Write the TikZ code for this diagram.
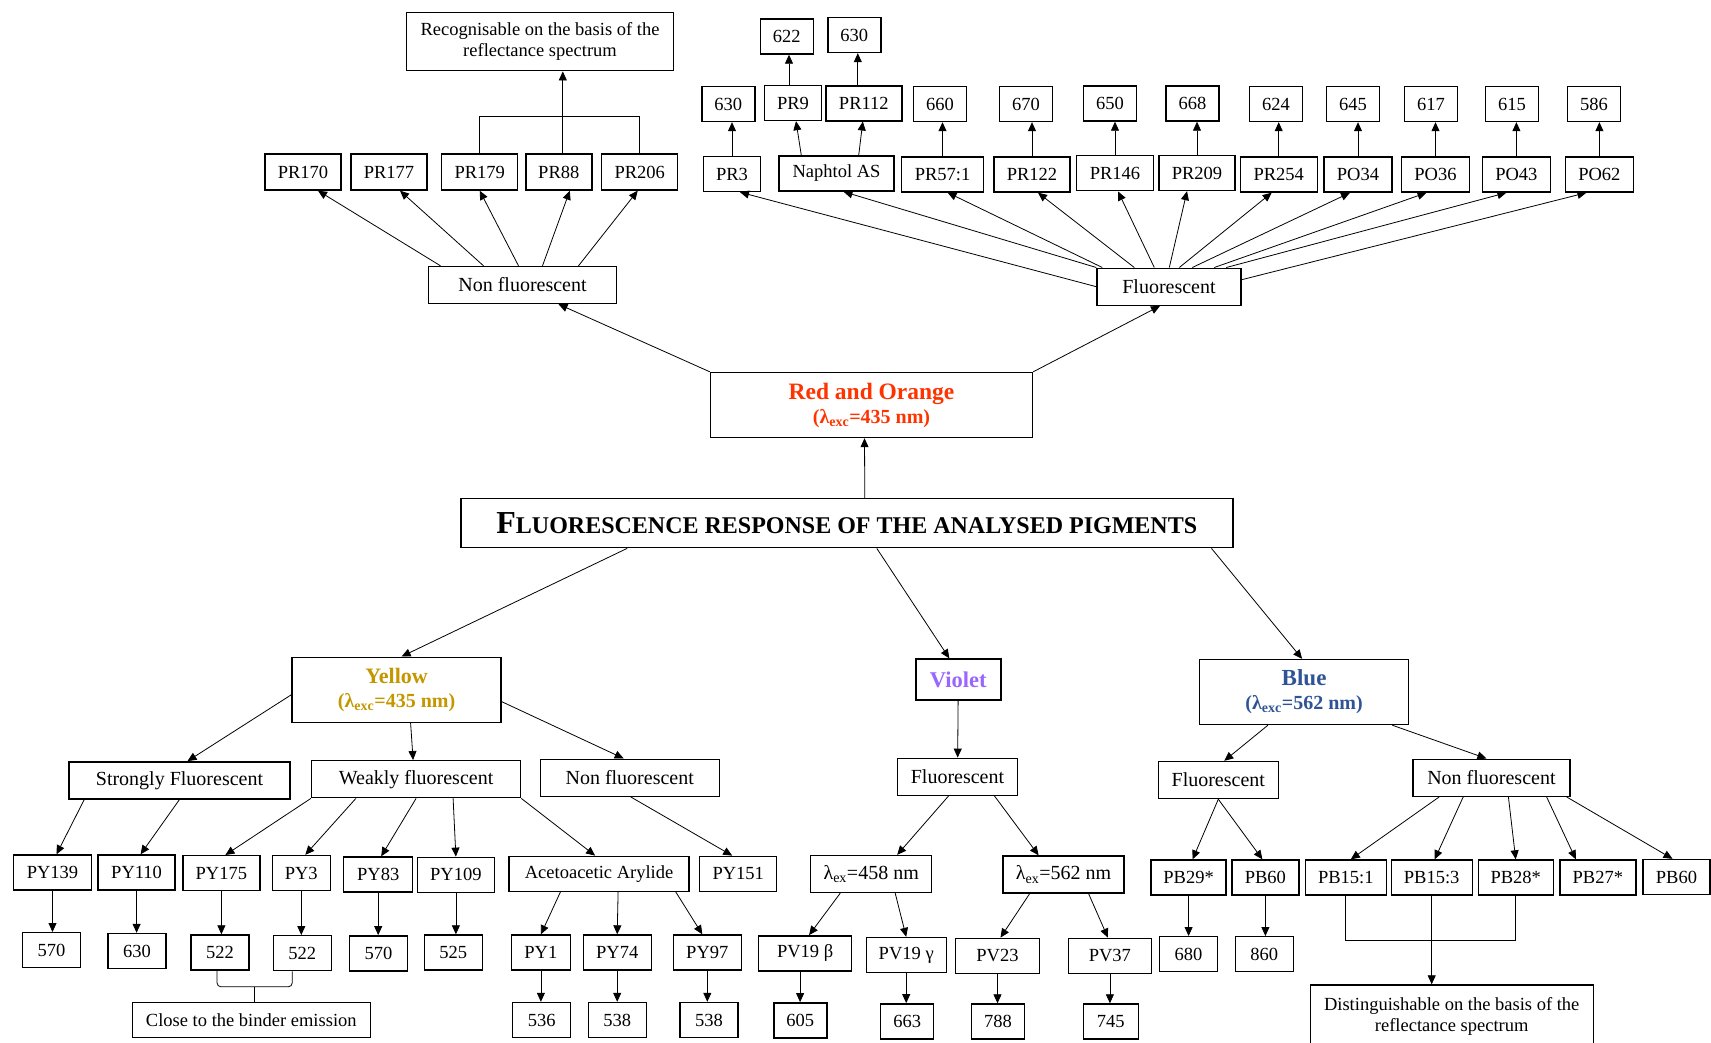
\documentclass[tikz,border=0pt]{standalone}
\usepackage{fontspec}
\setmainfont{Liberation Serif}
\usetikzlibrary{positioning}
\usetikzlibrary{arrows.meta}

\definecolor{redorange}{RGB}{255,51,0}
\definecolor{ochre}{RGB}{196,150,0}
\definecolor{lilac}{RGB}{153,102,255}
\definecolor{navyblue}{RGB}{47,84,150}

\tikzset{
  box/.style={draw, rectangle, line width=1.4pt, inner sep=0pt, minimum height=35, align=center, font=\fontsize{18.5}{21}\selectfont},
  catbox/.style={box, minimum height=37, font=\fontsize{20}{22}\selectfont},
  headbox/.style={box, minimum height=65, font=\bfseries\fontsize{20}{24}\selectfont},
  arr/.style={-{Triangle[length=9pt,width=8pt]}, line width=0.8pt},
  link/.style={line width=0.8pt},
}

\begin{document}
\begin{tikzpicture}[x=1pt,y=-1pt]
\useasboundingbox (0,0) rectangle (1711,1042);

% central title and the colour families
\node (title) at (846.8,523.2) [box, minimum width=772, minimum height=49, font=\bfseries]{{\fontsize{32}{34}\selectfont F}{\fontsize{24}{26}\selectfont LUORESCENCE RESPONSE OF THE ANALYSED PIGMENTS}};
\node (red) at (871.5,405) [headbox, minimum width=322, text=redorange]{{\fontsize{23.5}{26}\selectfont Red and Orange}\\(λ\textsubscript{exc}=435 nm)};
\node (yellow) at (396.6,689.7) [headbox, minimum width=209, text=ochre]{{\fontsize{22}{25}\selectfont Yellow}\\(λ\textsubscript{exc}=435 nm)};
\node (violet) at (958.3,679.5) [box, minimum width=85, minimum height=41, text=lilac, font=\bfseries\fontsize{22.5}{25}\selectfont]{Violet};
\node (blue) at (1304.1,692) [headbox, minimum width=209, text=navyblue]{{\fontsize{23}{26}\selectfont Blue}\\(λ\textsubscript{exc}=562 nm)};

\draw[arr] ([xshift=18pt]title.north) -- ([xshift=-7pt]red.south);
\draw[arr] ([xshift=167pt]title.south west) -- ([xshift=5pt]yellow.north);
\draw[arr] ([xshift=30pt]title.south) -- ([xshift=-9pt]violet.north);
\draw[arr] ([xshift=-22pt]title.south east) -- ([xshift=-2pt]blue.north);

% red and orange: non fluorescent
\node (recog) at (540,41.7) [box, minimum width=267, minimum height=58]{Recognisable on the basis of the\\reflectance spectrum};
\node (pr170) at (303,172) [box, minimum width=76, minimum height=36]{PR170};
\node (pr177) at (389,172) [box, minimum width=76, minimum height=36]{PR177};
\node (pr179) at (479.7,172) [box, minimum width=76, minimum height=36]{PR179};
\node (pr88) at (558.8,172) [box, minimum width=66, minimum height=36]{PR88};
\node (pr206) at (639.7,172) [box, minimum width=76, minimum height=36]{PR206};
\node (nfred) at (522.5,285) [catbox, minimum width=188]{Non fluorescent};

\draw[arr] (red.north west) -- ([xshift=36pt]nfred.south);
\draw[arr] ([xshift=-82pt]nfred.north) -- ([xshift=15pt]pr170.south);
\draw[arr] ([xshift=-39pt]nfred.north) -- ([xshift=11pt]pr177.south);
\draw[arr] ([xshift=-4pt]nfred.north) -- (pr179.south);
\draw[arr] ([xshift=20pt]nfred.north) -- ([xshift=11pt]pr88.south);
\draw[arr] ([xshift=56pt]nfred.north) -- ([xshift=-2pt]pr206.south);
\draw[link] (pr179.north) -- ++(0,-37) -| (pr206.north);
\draw[arr] ([xshift=4pt]pr88.north) -- ([xshift=4pt]pr88.north |- recog.south);

% red and orange: fluorescent
\node (flred) at (1169,286.7) [catbox, minimum width=144]{Fluorescent};
\node (pr3) at (732,174) [box, minimum width=57]{PR3};
\node (naphtol) at (836.5,173.5) [box, minimum width=115]{Naphtol AS};
\node (pr57) at (942.5,174.3) [box, minimum width=82]{PR57:1};
\node (pr122) at (1032,174.5) [box, minimum width=76]{PR122};
\node (pr146) at (1115,173.2) [box, minimum width=77]{PR146};
\node (pr209) at (1197,173) [box, minimum width=76]{PR209};
\node (pr254) at (1278.7,174.5) [box, minimum width=77]{PR254};
\node (po34) at (1358,174.5) [box, minimum width=68]{PO34};
\node (po36) at (1435.5,174.5) [box, minimum width=68]{PO36};
\node (po43) at (1516.4,174.5) [box, minimum width=68]{PO43};
\node (po62) at (1599.4,174.5) [box, minimum width=68]{PO62};
\node (pr9) at (793,103) [box, minimum width=57]{PR9};
\node (pr112) at (863.8,103.3) [box, minimum width=76]{PR112};

\node (pr3em) at (728.3,104) [box, minimum width=53]{630};
\node (pr9em) at (786.7,36.5) [box, minimum width=53]{622};
\node (pr112em) at (854.3,35) [box, minimum width=53]{630};
\node (pr57em) at (940,104) [box, minimum width=53]{660};
\node (pr122em) at (1026,104) [box, minimum width=53]{670};
\node (pr146em) at (1110,103.5) [box, minimum width=53]{650};
\node (pr209em) at (1192.5,103.5) [box, minimum width=53]{668};
\node (pr254em) at (1276,104) [box, minimum width=53]{624};
\node (po34em) at (1353,104) [box, minimum width=53]{645};
\node (po36em) at (1431,104) [box, minimum width=53]{617};
\node (po43em) at (1512,104) [box, minimum width=53]{615};
\node (po62em) at (1594,104) [box, minimum width=53]{586};

\draw[arr] (red.north east) -- ([xshift=-9pt]flred.south);
\draw[arr] (flred.west) -- ([xshift=8pt]pr3.south);
\draw[arr] (flred.north west) -- ([xshift=7pt]naphtol.south);
\draw[arr] ([xshift=6pt]flred.north west) -- ([xshift=5pt]pr57.south);
\draw[arr] ([xshift=38pt]flred.north west) -- ([xshift=6pt]pr122.south);
\draw[arr] ([xshift=58pt]flred.north west) -- ([xshift=3pt]pr146.south);
\draw[arr] ([xshift=73pt]flred.north west) -- ([xshift=-10pt]pr209.south);
\draw[arr] ([xshift=83pt]flred.north west) -- ([xshift=-7pt]pr254.south);
\draw[arr] ([xshift=96pt]flred.north west) -- ([xshift=-8pt]po34.south);
\draw[arr] ([xshift=118pt]flred.north west) -- ([xshift=-9pt]po36.south);
\draw[arr] ([xshift=130pt]flred.north west) -- ([xshift=-10pt]po43.south);
\draw[arr] ([yshift=7pt]flred.east) -- ([xshift=-13pt]po62.south);

\draw[arr] ([xshift=23pt]naphtol.north west) -- ([xshift=3pt]pr9.south);
\draw[arr] ([xshift=-36pt]naphtol.north east) -- ([xshift=-1pt]pr112.south);
\draw[arr] (pr3.north) -- (pr3.north |- pr3em.south);
\draw[arr] ([xshift=-4pt]pr9.north) -- ([xshift=-4pt]pr9.north |- pr9em.south);
\draw[arr] ([xshift=-6pt]pr112.north) -- ([xshift=-6pt]pr112.north |- pr112em.south);
\draw[arr] (pr57.north) -- (pr57.north |- pr57em.south);
\draw[arr] (pr122.north) -- (pr122.north |- pr122em.south);
\draw[arr] (pr146.north) -- (pr146.north |- pr146em.south);
\draw[arr] (pr209.north) -- (pr209.north |- pr209em.south);
\draw[arr] (pr254.north) -- (pr254.north |- pr254em.south);
\draw[arr] (po34.north) -- (po34.north |- po34em.south);
\draw[arr] (po36.north) -- (po36.north |- po36em.south);
\draw[arr] (po43.north) -- (po43.north |- po43em.south);
\draw[arr] (po62.north) -- (po62.north |- po62em.south);

% yellow
\node (strong) at (179.5,780.3) [catbox, minimum width=221]{Strongly Fluorescent};
\node (weak) at (416.1,779.2) [catbox, minimum width=209]{Weakly fluorescent};
\node (nfyel) at (629.7,777.7) [catbox, minimum width=179]{Non fluorescent};
\node (py139) at (52.5,872.5) [box, minimum width=78]{PY139};
\node (py110) at (136.6,872.5) [box, minimum width=77]{PY110};
\node (py175) at (221.4,873.2) [box, minimum width=77]{PY175};
\node (py3) at (301.3,873) [box, minimum width=58]{PY3};
\node (py83) at (378.2,874.5) [box, minimum width=69]{PY83};
\node (py109) at (455.9,874.8) [box, minimum width=77]{PY109};
\node (aaa) at (599.1,873.8) [box, minimum width=180]{Acetoacetic Arylide};
\node (py151) at (738.2,873.8) [box, minimum width=77]{PY151};
\node (py1) at (540.9,952.5) [box, minimum width=59]{PY1};
\node (py74) at (617.2,952.5) [box, minimum width=68]{PY74};
\node (py97) at (707.3,952.5) [box, minimum width=68]{PY97};

\node (py139em) at (51.6,950.2) [box, minimum width=58]{570};
\node (py110em) at (137,951) [box, minimum width=58]{630};
\node (py175em) at (220,952.5) [box, minimum width=58]{522};
\node (py3em) at (302.3,953.2) [box, minimum width=58]{522};
\node (py83em) at (378.6,953.3) [box, minimum width=58]{570};
\node (py109em) at (453.2,952.5) [box, minimum width=58]{525};
\node (py1em) at (541.7,1020) [box, minimum width=58]{536};
\node (py74em) at (617.2,1020) [box, minimum width=58]{538};
\node (py97em) at (709,1020) [box, minimum width=58]{538};
\node (binder) at (251.3,1020) [box, minimum width=238]{Close to the binder emission};

\draw[arr] ([yshift=-5pt]yellow.west) -- ([xshift=8pt]strong.north);
\draw[arr] ([xshift=14pt]yellow.south) -- ([xshift=-3pt]weak.north);
\draw[arr] ([yshift=-12pt]yellow.east) -- ([xshift=-6pt]nfyel.north);
\draw[arr] ([xshift=16pt]strong.south west) -- ([xshift=4pt]py139.north);
\draw[arr] (strong.south) -- ([xshift=4pt]py110.north);
\draw[arr] (weak.south west) -- ([xshift=4pt]py175.north);
\draw[arr] ([xshift=45pt]weak.south west) -- ([xshift=4pt]py3.north);
\draw[arr] (weak.south) -- ([xshift=3pt]py83.north);
\draw[arr] ([xshift=37pt]weak.south) -- (py109.north);
\draw[arr] (weak.south east) -- ([xshift=-4pt]aaa.north);
\draw[arr] ([xshift=1pt]nfyel.south) -- ([xshift=-6pt]py151.north);
\draw[arr] ([xshift=52pt]aaa.south west) -- (py1.north);
\draw[arr] ([xshift=19pt]aaa.south) -- (py74.north);
\draw[arr] ([xshift=-14pt]aaa.south east) -- ([xshift=-5pt]py97.north);

\draw[arr] (py139.south) -- (py139.south |- py139em.north);
\draw[arr] (py110.south) -- (py110.south |- py110em.north);
\draw[arr] (py175.south) -- (py175.south |- py175em.north);
\draw[arr] (py3.south) -- (py3.south |- py3em.north);
\draw[arr] (py83.south) -- (py83.south |- py83em.north);
\draw[arr] (py109.south) -- (py109.south |- py109em.north);
\draw[arr] (py1.south) -- (py1.south |- py1em.north);
\draw[arr] (py74.south) -- (py74.south |- py74em.north);
\draw[arr] (py97.south) -- (py97.south |- py97em.north);
\draw[link, rounded corners=4pt] ([xshift=-3pt]py175em.south) |- ([xshift=3pt,yshift=15pt]binder.north) -| ([xshift=-10pt]py3em.south);
\draw[link] ([xshift=3pt]binder.north) -- ++(0,-15);

% violet
\node (flvio) at (957.5,776.8) [catbox, minimum width=120]{Fluorescent};
\node (lex458) at (871.2,874) [catbox, minimum width=121]{λ\textsubscript{ex}=458 nm};
\node (lex562) at (1063.6,874.5) [catbox, minimum width=121]{λ\textsubscript{ex}=562 nm};
\node (pv19b) at (805.1,953.3) [box, minimum width=93]{PV19 β};
\node (pv19g) at (906.2,955) [box, minimum width=80]{PV19 γ};
\node (pv23) at (997.5,955.8) [box, minimum width=84]{PV23};
\node (pv37) at (1109.9,955.8) [box, minimum width=83]{PV37};
\node (pv19bem) at (800.3,1020.3) [box, minimum width=53]{605};
\node (pv19gem) at (907.2,1021.3) [box, minimum width=53]{663};
\node (pv23em) at (998.1,1021.5) [box, minimum width=53]{788};
\node (pv37em) at (1110.7,1021.5) [box, minimum width=55]{745};

\draw[arr] (violet) -- (flvio);
\draw[arr] ([xshift=-9pt]flvio.south) -- ([xshift=26pt]lex458.north);
\draw[arr] ([xshift=37pt]flvio.south) -- ([xshift=-25pt]lex562.north);
\draw[arr] ([xshift=-31pt]lex458.south) -- ([xshift=4pt]pv19b.north);
\draw[arr] ([xshift=24pt]lex458.south) -- (pv19g.north);
\draw[arr] ([xshift=-34pt]lex562.south) -- ([xshift=3pt]pv23.north);
\draw[arr] ([xshift=25pt]lex562.south) -- ([xshift=-2pt]pv37.north);
\draw[arr] ([xshift=-5pt]pv19b.south) -- ([xshift=-5pt]pv19b.south |- pv19bem.north);
\draw[arr] (pv19g.south) -- (pv19g.south |- pv19gem.north);
\draw[arr] (pv23.south) -- (pv23.south |- pv23em.north);
\draw[arr] (pv37.south) -- (pv37.south |- pv37em.north);

% blue
\node (flblue) at (1218.3,780) [catbox, minimum width=120]{Fluorescent};
\node (nfblue) at (1491.4,777.7) [catbox, minimum width=157]{Non fluorescent};
\node (pb29) at (1188.6,877.5) [box, minimum width=75]{PB29*};
\node (pb60a) at (1265.4,877.5) [box, minimum width=67]{PB60};
\node (pb151) at (1345.8,877.5) [box, minimum width=81]{PB15:1};
\node (pb153) at (1431.7,877.5) [box, minimum width=81]{PB15:3};
\node (pb28) at (1515.7,877.5) [box, minimum width=75]{PB28*};
\node (pb27) at (1597.8,877.5) [box, minimum width=76]{PB27*};
\node (pb60b) at (1676.5,877) [box, minimum width=67]{PB60};
\node (pb29em) at (1188.5,954.2) [box, minimum width=58]{680};
\node (pb60em) at (1264.2,954.2) [box, minimum width=58]{860};
\node (disting) at (1451.7,1016) [box, minimum width=283, minimum height=62]{Distinguishable on the basis of the\\reflectance spectrum};

\draw[arr] ([xshift=69pt]blue.south west) -- ([xshift=6pt]flblue.north);
\draw[arr] ([xshift=-17pt]blue.south east) -- ([xshift=-5pt]nfblue.north);
\draw[arr] (flblue.south) -- ([xshift=4pt]pb29.north);
\draw[arr] (flblue.south) -- ([xshift=-3pt]pb60a.north);
\draw[arr] ([xshift=27pt]nfblue.south west) -- ([xshift=5pt]pb151.north);
\draw[arr] ([xshift=51pt]nfblue.south west) -- ([xshift=3pt]pb153.north);
\draw[arr] ([xshift=17pt]nfblue.south) -- (pb28.north);
\draw[arr] ([xshift=-24pt]nfblue.south east) -- ([xshift=-22pt]pb27.north);
\draw[arr] ([xshift=-4pt]nfblue.south east) -- ([xshift=-4pt]pb60b.north);
\draw[arr] (pb29.south) -- (pb29.south |- pb29em.north);
\draw[arr] (pb60a.south) -- (pb60a.south |- pb60em.north);
\draw[link] (pb151.south) -- ++(0,45) -| (pb28.south);
\draw[arr] (pb153.south) -- (pb153.south |- disting.north);

\end{tikzpicture}
\end{document}
